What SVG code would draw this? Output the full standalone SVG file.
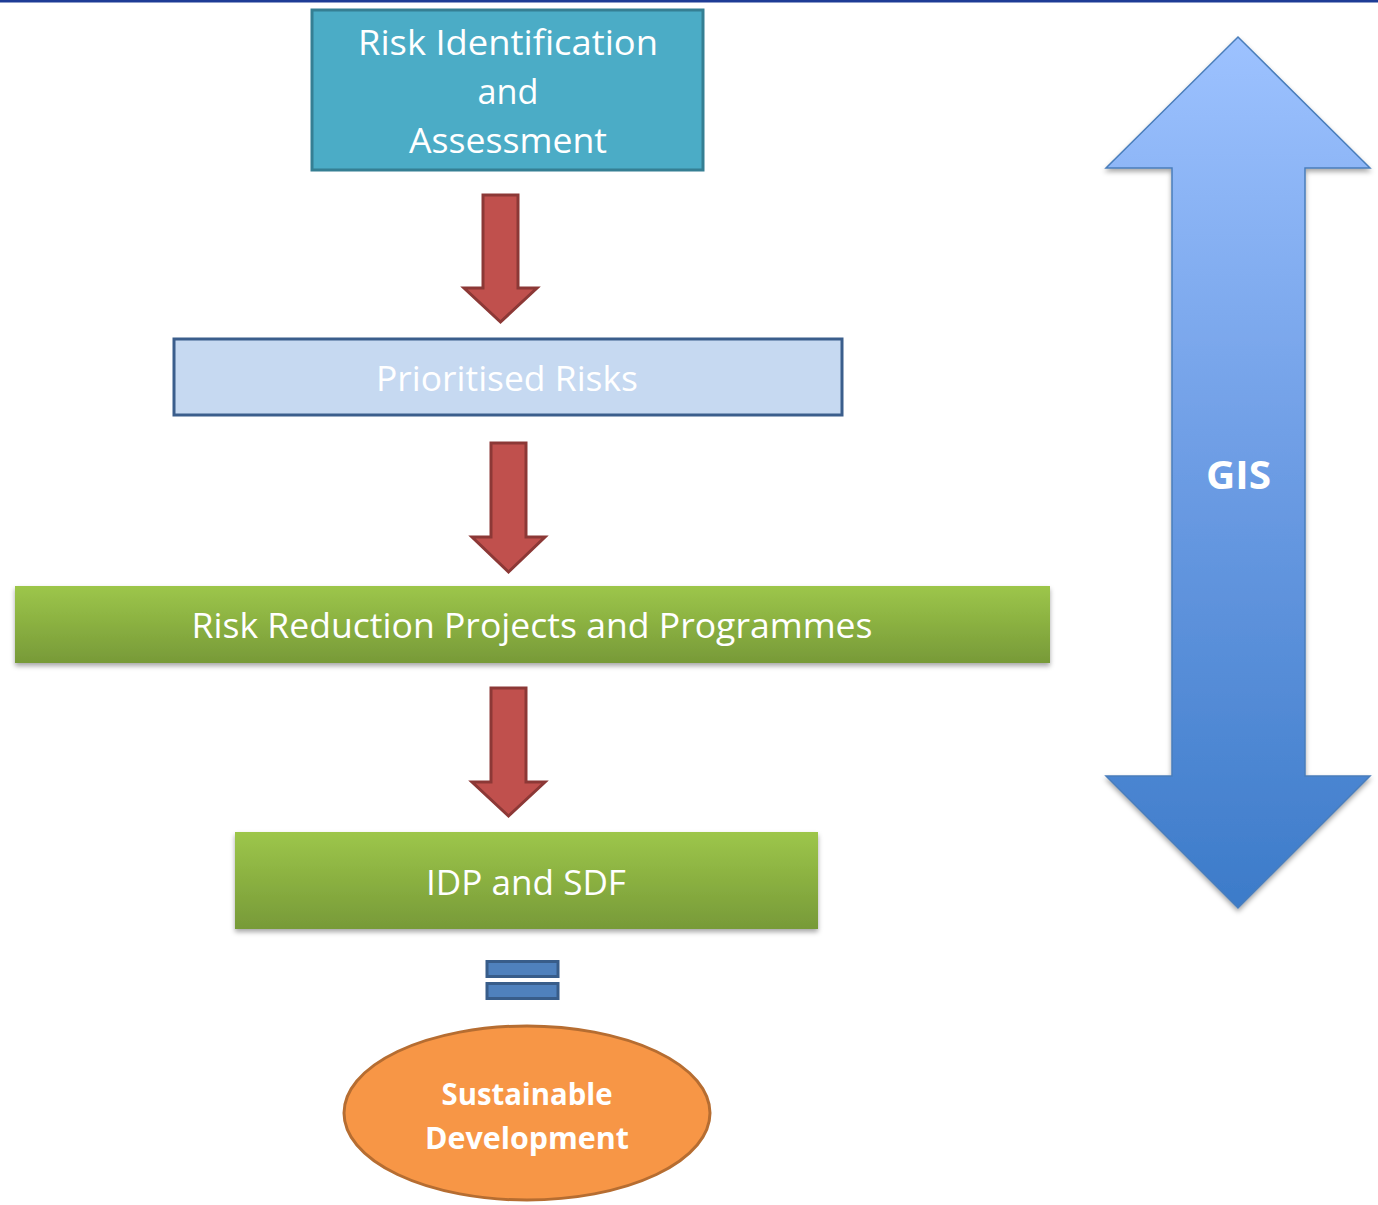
<svg xmlns="http://www.w3.org/2000/svg" width="1378" height="1205" viewBox="0 0 1378 1205">
<defs>
<style>
.t{font-family:"Open Sans","Liberation Sans",sans-serif;fill:#fff;text-anchor:middle}
.b{font-weight:bold}
.red{fill:#C0504D;stroke:#8C3836;stroke-width:3;stroke-linejoin:miter}
.eq{fill:#4F81BD;stroke:#385D8A;stroke-width:3}
.green{fill:url(#gGreen);filter:url(#sh)}
</style>
<linearGradient id="gGreen" x1="0" y1="0" x2="0" y2="1">
<stop offset="0" stop-color="#9DC64A"/>
<stop offset="1" stop-color="#779A38"/>
</linearGradient>
<linearGradient id="gBlue" gradientUnits="userSpaceOnUse" x1="0" y1="37" x2="0" y2="908">
<stop offset="0" stop-color="#9DC2FF"/>
<stop offset="0.5" stop-color="#6C9CE4"/>
<stop offset="1" stop-color="#3C7BC9"/>
</linearGradient>
<filter id="sh" x="-5%" y="-10%" width="110%" height="130%">
<feDropShadow dx="0" dy="3" stdDeviation="2.5" flood-color="#000" flood-opacity="0.35"/>
</filter>
</defs>
<rect x="0" y="0" width="1378" height="1205" fill="#fff"/>
<rect x="0" y="0" width="1378" height="2.5" fill="#1E3C96"/>

<g id="connectors">
<path class="red" d="M483,195 H518 V288 H537 L500.5,322 L464,288 H483 Z"/>
<path class="red" d="M491,443 H526 V537 H545 L508.5,572 L472,537 H491 Z"/>
<path class="red" d="M491,688 H526 V782 H545 L508.5,816 L472,782 H491 Z"/>
</g>

<g id="risk-identification">
<rect x="312" y="10" width="391" height="160" fill="#4BACC6" stroke="#357F93" stroke-width="3"/>
<text class="t" x="508" y="55" font-size="34" textLength="300" lengthAdjust="spacingAndGlyphs">Risk Identification</text>
<text class="t" x="508" y="104" font-size="34" textLength="61" lengthAdjust="spacingAndGlyphs">and</text>
<text class="t" x="508" y="153" font-size="34" textLength="198" lengthAdjust="spacingAndGlyphs">Assessment</text>
</g>

<g id="prioritised-risks">
<rect x="174" y="339" width="668" height="76" fill="#C6D9F1" stroke="#3B5E8C" stroke-width="3"/>
<text class="t" x="507" y="391" font-size="34" textLength="262" lengthAdjust="spacingAndGlyphs">Prioritised Risks</text>
</g>

<g id="risk-reduction">
<rect class="green" x="15" y="586" width="1035" height="77"/>
<text class="t" x="532" y="638" font-size="34" textLength="681" lengthAdjust="spacingAndGlyphs">Risk Reduction Projects and Programmes</text>
</g>

<g id="idp-sdf">
<rect class="green" x="235" y="832" width="583" height="97"/>
<text class="t" x="526" y="895" font-size="34" textLength="200" lengthAdjust="spacingAndGlyphs">IDP and SDF</text>
</g>

<g id="equals">
<rect class="eq" x="487" y="961.5" width="71" height="15"/>
<rect class="eq" x="487" y="983.5" width="71" height="15"/>
</g>

<g id="sustainable-development">
<ellipse cx="527" cy="1113" rx="183" ry="87" fill="#F79646" stroke="#B66D31" stroke-width="3"/>
<text class="t b" x="527" y="1105" font-size="30" textLength="171" lengthAdjust="spacingAndGlyphs">Sustainable</text>
<text class="t b" x="527" y="1149" font-size="30" textLength="204" lengthAdjust="spacingAndGlyphs">Development</text>
</g>

<g id="gis">
<path d="M1238,37 L1370,168 H1305 V776 H1370 L1238,908 L1106,776 H1172 V168 H1106 Z" fill="url(#gBlue)" stroke="#4A7EBB" stroke-width="1.5" filter="url(#sh)"/>
<text class="t b" x="1238.5" y="489" font-size="40" textLength="65" lengthAdjust="spacingAndGlyphs">GIS</text>
</g>
</svg>
